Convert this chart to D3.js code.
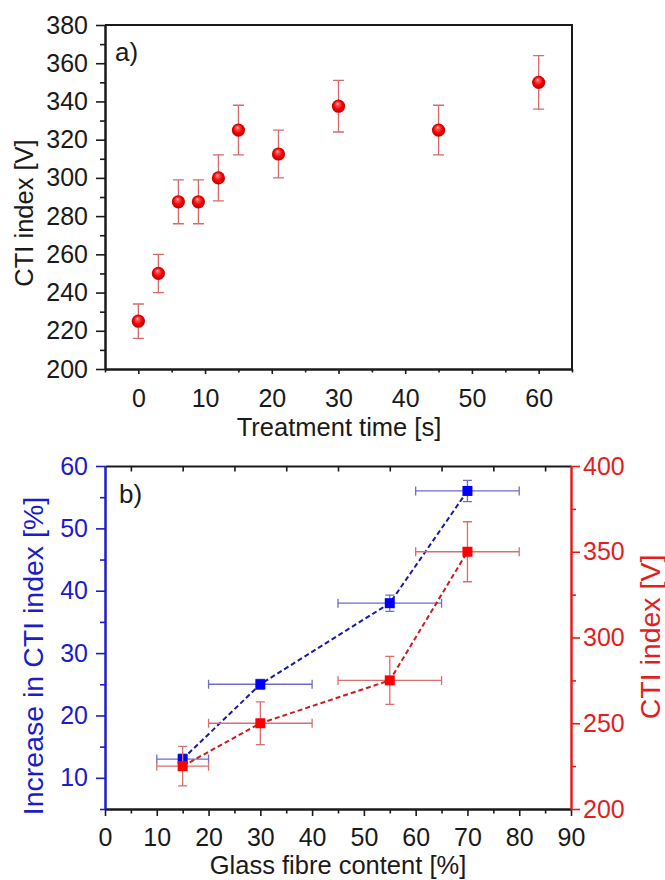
<!DOCTYPE html>
<html>
<head>
<meta charset="utf-8">
<script src="https://cdn.jsdelivr.net/npm/d3@7"></script>
<style>
  body { margin: 0; background: #fff; }
  svg { display: block; font-family: "Liberation Sans", Arial, sans-serif; }
</style>
</head>
<body>
<div id="chart"></div>
<script>
// panel a) treatment time vs CTI
var timeS = [0, 3, 6, 9, 12, 15, 21, 30, 45, 60];
var ctiV = [225, 250, 287.5, 287.5, 300, 325, 312.5, 337.5, 325, 350];
var ctiErr = [9, 10, 11.5, 11.5, 12, 13, 12.5, 13.5, 13, 14];

// panel b) glass fibre content
var fibre = [15, 30, 55, 70];
var fibreErr = [5, 10, 10, 10];
var increasePct = [13, 25, 38, 56];
var increaseErr = [0.8, 0.8, 1.3, 1.7];
var ctiFibre = [225, 250, 275, 350];
var ctiFibreErr = [11.5, 12.5, 14, 17.5];

// ticks
var aXTicks = [0, 10, 20, 30, 40, 50, 60];
var aXMinor = [-5, 5, 15, 25, 35, 45, 55, 65];
var aYTicks = [200, 220, 240, 260, 280, 300, 320, 340, 360, 380];
var aYMinor = [210, 230, 250, 270, 290, 310, 330, 350, 370];
var bXTicks = [0, 10, 20, 30, 40, 50, 60, 70, 80, 90];
var bXMinor = [5, 15, 25, 35, 45, 55, 65, 75, 85];
var bYLTicks = [10, 20, 30, 40, 50, 60];
var bYLMinor = [5, 15, 25, 35, 45, 55];
var bYRTicks = [200, 250, 300, 350, 400];
var bYRMinor = [225, 275, 325, 375];

var BLUE = "#1c1cc8", RED = "#e31e1e", DARK = "#1a1a1a";
var TICK_FONT = 25;

var svg = d3.select("#chart").append("svg")
  .attr("width", 665)
  .attr("height", 880);

// sphere gradient for panel a markers
var defs = svg.append("defs");
var grad = defs.append("radialGradient")
  .attr("id", "ball")
  .attr("cx", "50%").attr("cy", "50%").attr("r", "55%")
  .attr("fx", "42%").attr("fy", "28%");
grad.append("stop").attr("offset", "0%").attr("stop-color", "#ffd8d8");
grad.append("stop").attr("offset", "22%").attr("stop-color", "#ff5050");
grad.append("stop").attr("offset", "60%").attr("stop-color", "#f00000");
grad.append("stop").attr("offset", "100%").attr("stop-color", "#b00000");

function styleAxis(g, color) {
  g.selectAll("path.domain").attr("stroke", color).attr("stroke-width", 2);
  g.selectAll(".tick line").attr("stroke", color).attr("stroke-width", 1.6);
  g.selectAll(".tick text").attr("fill", color).style("font-size", TICK_FONT + "px")
    .style("font-family", '"Liberation Sans", Arial, sans-serif');
}

// ============ panel a ============
var xA = d3.scaleLinear().domain([-5, 65]).range([105, 572]);
var yA = d3.scaleLinear().domain([200, 380]).range([369, 25]);

// frame (top & right)
svg.append("path")
  .attr("d", "M" + xA(-5) + "," + yA(380) + "H" + xA(65) + "V" + yA(200))
  .attr("fill", "none").attr("stroke", DARK).attr("stroke-width", 2);

svg.append("g").attr("transform", "translate(0," + yA(200) + ")")
  .call(d3.axisBottom(xA).tickValues(aXMinor).tickFormat("").tickSize(3.5).tickSizeOuter(0))
  .call(function(g) { styleAxis(g, DARK); });
svg.append("g").attr("transform", "translate(0," + yA(200) + ")")
  .call(d3.axisBottom(xA).tickValues(aXTicks).tickSize(5).tickPadding(15).tickSizeOuter(0))
  .call(function(g) { styleAxis(g, DARK); });

svg.append("g").attr("transform", "translate(" + xA(-5) + ",0)")
  .call(d3.axisLeft(yA).tickValues(aYMinor).tickFormat("").tickSize(5).tickSizeOuter(0))
  .call(function(g) { styleAxis(g, DARK); });
svg.append("g").attr("transform", "translate(" + xA(-5) + ",0)")
  .call(d3.axisLeft(yA).tickValues(aYTicks).tickSize(9).tickPadding(8).tickSizeOuter(0))
  .call(function(g) { styleAxis(g, DARK); });

// error bars
var dataA = timeS.map(function(t, i) { return {x: t, y: ctiV[i], e: ctiErr[i]}; });
var errA = svg.append("g").attr("stroke", "#d46a6a").attr("stroke-width", 1.3).attr("fill", "none");
errA.selectAll("path").data(dataA).enter().append("path")
  .attr("d", function(d) {
    var x = xA(d.x), y0 = yA(d.y - d.e), y1 = yA(d.y + d.e);
    return "M" + x + "," + y0 + "V" + y1 +
      "M" + (x - 5.5) + "," + y0 + "h11" +
      "M" + (x - 5.5) + "," + y1 + "h11";
  });

svg.append("g").selectAll("circle").data(dataA).enter().append("circle")
  .attr("cx", function(d) { return xA(d.x); })
  .attr("cy", function(d) { return yA(d.y); })
  .attr("r", 6.6)
  .attr("fill", "url(#ball)");

svg.append("text").attr("x", 115).attr("y", 61)
  .style("font-size", "26px").attr("fill", DARK).text("a)");

svg.append("text")
  .attr("x", 339).attr("y", 436)
  .attr("text-anchor", "middle")
  .style("font-size", "25.5px").attr("fill", DARK)
  .text("Treatment time [s]");

svg.append("text")
  .attr("transform", "translate(33,213) rotate(-90)")
  .attr("text-anchor", "middle")
  .style("font-size", "25.5px").attr("fill", DARK)
  .text("CTI index [V]");

// ============ panel b ============
var xB = d3.scaleLinear().domain([0, 90]).range([105, 571]);
var yBL = d3.scaleLinear().domain([5, 60]).range([809, 466]);
var yBR = d3.scaleLinear().domain([200, 400]).range([809, 466]);

// top axis with inward ticks
svg.append("g").attr("transform", "translate(0," + yBL(60) + ")")
  .call(d3.axisTop(xB).tickValues(bXMinor).tickFormat("").tickSize(-5.5).tickSizeOuter(0))
  .call(function(g) { styleAxis(g, DARK); });

svg.append("g").attr("transform", "translate(0," + yBL(5) + ")")
  .call(d3.axisBottom(xB).tickValues(bXMinor).tickFormat("").tickSize(4.5).tickSizeOuter(0))
  .call(function(g) { styleAxis(g, DARK); });
svg.append("g").attr("transform", "translate(0," + yBL(5) + ")")
  .call(d3.axisBottom(xB).tickValues(bXTicks).tickSize(7).tickPadding(12).tickSizeOuter(0))
  .call(function(g) { styleAxis(g, DARK); });

svg.append("g").attr("transform", "translate(" + xB(0) + ",0)")
  .call(d3.axisLeft(yBL).tickValues(bYLMinor).tickFormat("").tickSize(5).tickSizeOuter(0))
  .call(function(g) { styleAxis(g, BLUE); });
svg.append("g").attr("transform", "translate(" + xB(0) + ",0)")
  .call(d3.axisLeft(yBL).tickValues(bYLTicks).tickSize(9).tickPadding(8).tickSizeOuter(0))
  .call(function(g) { styleAxis(g, BLUE); });

svg.append("g").attr("transform", "translate(" + xB(90) + ",0)")
  .call(d3.axisRight(yBR).tickValues(bYRMinor).tickFormat("").tickSize(5).tickSizeOuter(0))
  .call(function(g) { styleAxis(g, RED); });
svg.append("g").attr("transform", "translate(" + xB(90) + ",0)")
  .call(d3.axisRight(yBR).tickValues(bYRTicks).tickSize(9).tickPadding(3).tickSizeOuter(0))
  .call(function(g) { styleAxis(g, RED); });

var blueData = fibre.map(function(f, i) { return {x: f, xe: fibreErr[i], y: increasePct[i], ye: increaseErr[i]}; });
var redData = fibre.map(function(f, i) { return {x: f, xe: fibreErr[i], y: ctiFibre[i], ye: ctiFibreErr[i]}; });

function drawSeries(data, ys, lineColor, errColor, markColor) {
  var g = svg.append("g");
  g.append("g").attr("stroke", errColor).attr("stroke-width", 1.3).attr("fill", "none")
    .selectAll("path").data(data).enter().append("path")
    .attr("d", function(d) {
      var x0 = xB(d.x - d.xe), x1 = xB(d.x + d.xe), x = xB(d.x);
      var y = ys(d.y), y0 = ys(d.y - d.ye), y1 = ys(d.y + d.ye);
      return "M" + x0 + "," + y + "H" + x1 +
        "M" + x0 + "," + (y - 4.5) + "v9" +
        "M" + x1 + "," + (y - 4.5) + "v9" +
        "M" + x + "," + y0 + "V" + y1 +
        "M" + (x - 4.5) + "," + y0 + "h9" +
        "M" + (x - 4.5) + "," + y1 + "h9";
    });
  var line = d3.line().x(function(d) { return xB(d.x); }).y(function(d) { return ys(d.y); });
  g.append("path").datum(data)
    .attr("d", line)
    .attr("fill", "none")
    .attr("stroke", lineColor)
    .attr("stroke-width", 2)
    .attr("stroke-dasharray", "5,3");
  g.selectAll("rect").data(data).enter().append("rect")
    .attr("x", function(d) { return xB(d.x) - 5; })
    .attr("y", function(d) { return ys(d.y) - 5; })
    .attr("width", 10).attr("height", 10)
    .attr("fill", markColor);
}

drawSeries(blueData, yBL, "#1a1aa8", "#6b6bd0", "#0000ff");
drawSeries(redData, yBR, "#c81e1e", "#d87070", "#ff0000");

svg.append("text").attr("x", 119).attr("y", 503)
  .style("font-size", "26px").attr("fill", DARK).text("b)");

svg.append("text")
  .attr("x", 338).attr("y", 874)
  .attr("text-anchor", "middle")
  .style("font-size", "25.5px").attr("fill", DARK)
  .text("Glass fibre content [%]");

svg.append("text")
  .attr("transform", "translate(43,656) rotate(-90)")
  .attr("text-anchor", "middle")
  .style("font-size", "28.5px").attr("fill", BLUE)
  .text("Increase in CTI index [%]");

svg.append("text")
  .attr("transform", "translate(660,637) rotate(-90)")
  .attr("text-anchor", "middle")
  .style("font-size", "28.5px").attr("fill", RED)
  .text("CTI index [V]");
</script>
</body>
</html>
